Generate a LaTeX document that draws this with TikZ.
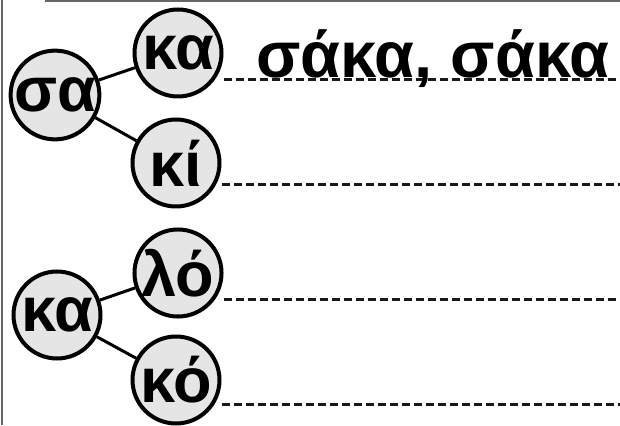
\documentclass[tikz,border=0pt]{standalone}
\usepackage{fontspec}
\newfontfamily\grk{Liberation Sans}
\tikzset{
  syl/.style={circle, draw=black, line width=4pt, fill=black!10, minimum size=87pt, inner sep=0pt, font=\grk\bfseries\fontsize{63}{63}\selectfont},
  link/.style={line width=3pt, black},
  writeline/.style={line width=3pt, black!90, dash pattern=on 8pt off 4pt},
  frame/.style={line width=2.5pt, black!60}
}
\begin{document}
\begin{tikzpicture}[x=1pt,y=1pt]
\useasboundingbox (0,0) rectangle (620,425);
% frame lines
\coordinate (ftl) at (45,424);
\coordinate (ftr) at (620,424);
\coordinate (flt) at (2,425);
\coordinate (flb) at (2,0);
\draw[frame] (ftl) -- (ftr);
\draw[frame] (flt) -- (flb);
% first tree
\node[syl] (sa) at (55,330) {σα};
\node[syl] (ka1) at (178,372) {κα};
\node[syl] (ki) at (176,262) {κί};
% second tree
\node[syl] (ka2) at (57,110) {κα};
\node[syl] (lo) at (178,152) {λό};
\node[syl] (ko) at (176,45) {κό};
\draw[link] (sa) -- (ka1);
\draw[link] (sa) -- (ki);
\draw[link] (ka2) -- (lo);
\draw[link] (ka2) -- (ko);
% writing lines
\coordinate (e1) at (620,345);
\coordinate (e2) at (620,240);
\coordinate (e3) at (620,125);
\coordinate (e4) at (620,20);
\draw[writeline] (ka1.east |- e1) -- (e1);
\draw[writeline] (ki.east |- e2) -- (e2);
\draw[writeline] (lo.east |- e3) -- (e3);
\draw[writeline] (ko.east |- e4) -- (e4);
% written word
\node[anchor=base west, inner sep=0pt, font=\grk\bfseries\fontsize{65}{65}\selectfont] (word) at (256,347) {σάκα, σάκα};
\end{tikzpicture}
\end{document}
